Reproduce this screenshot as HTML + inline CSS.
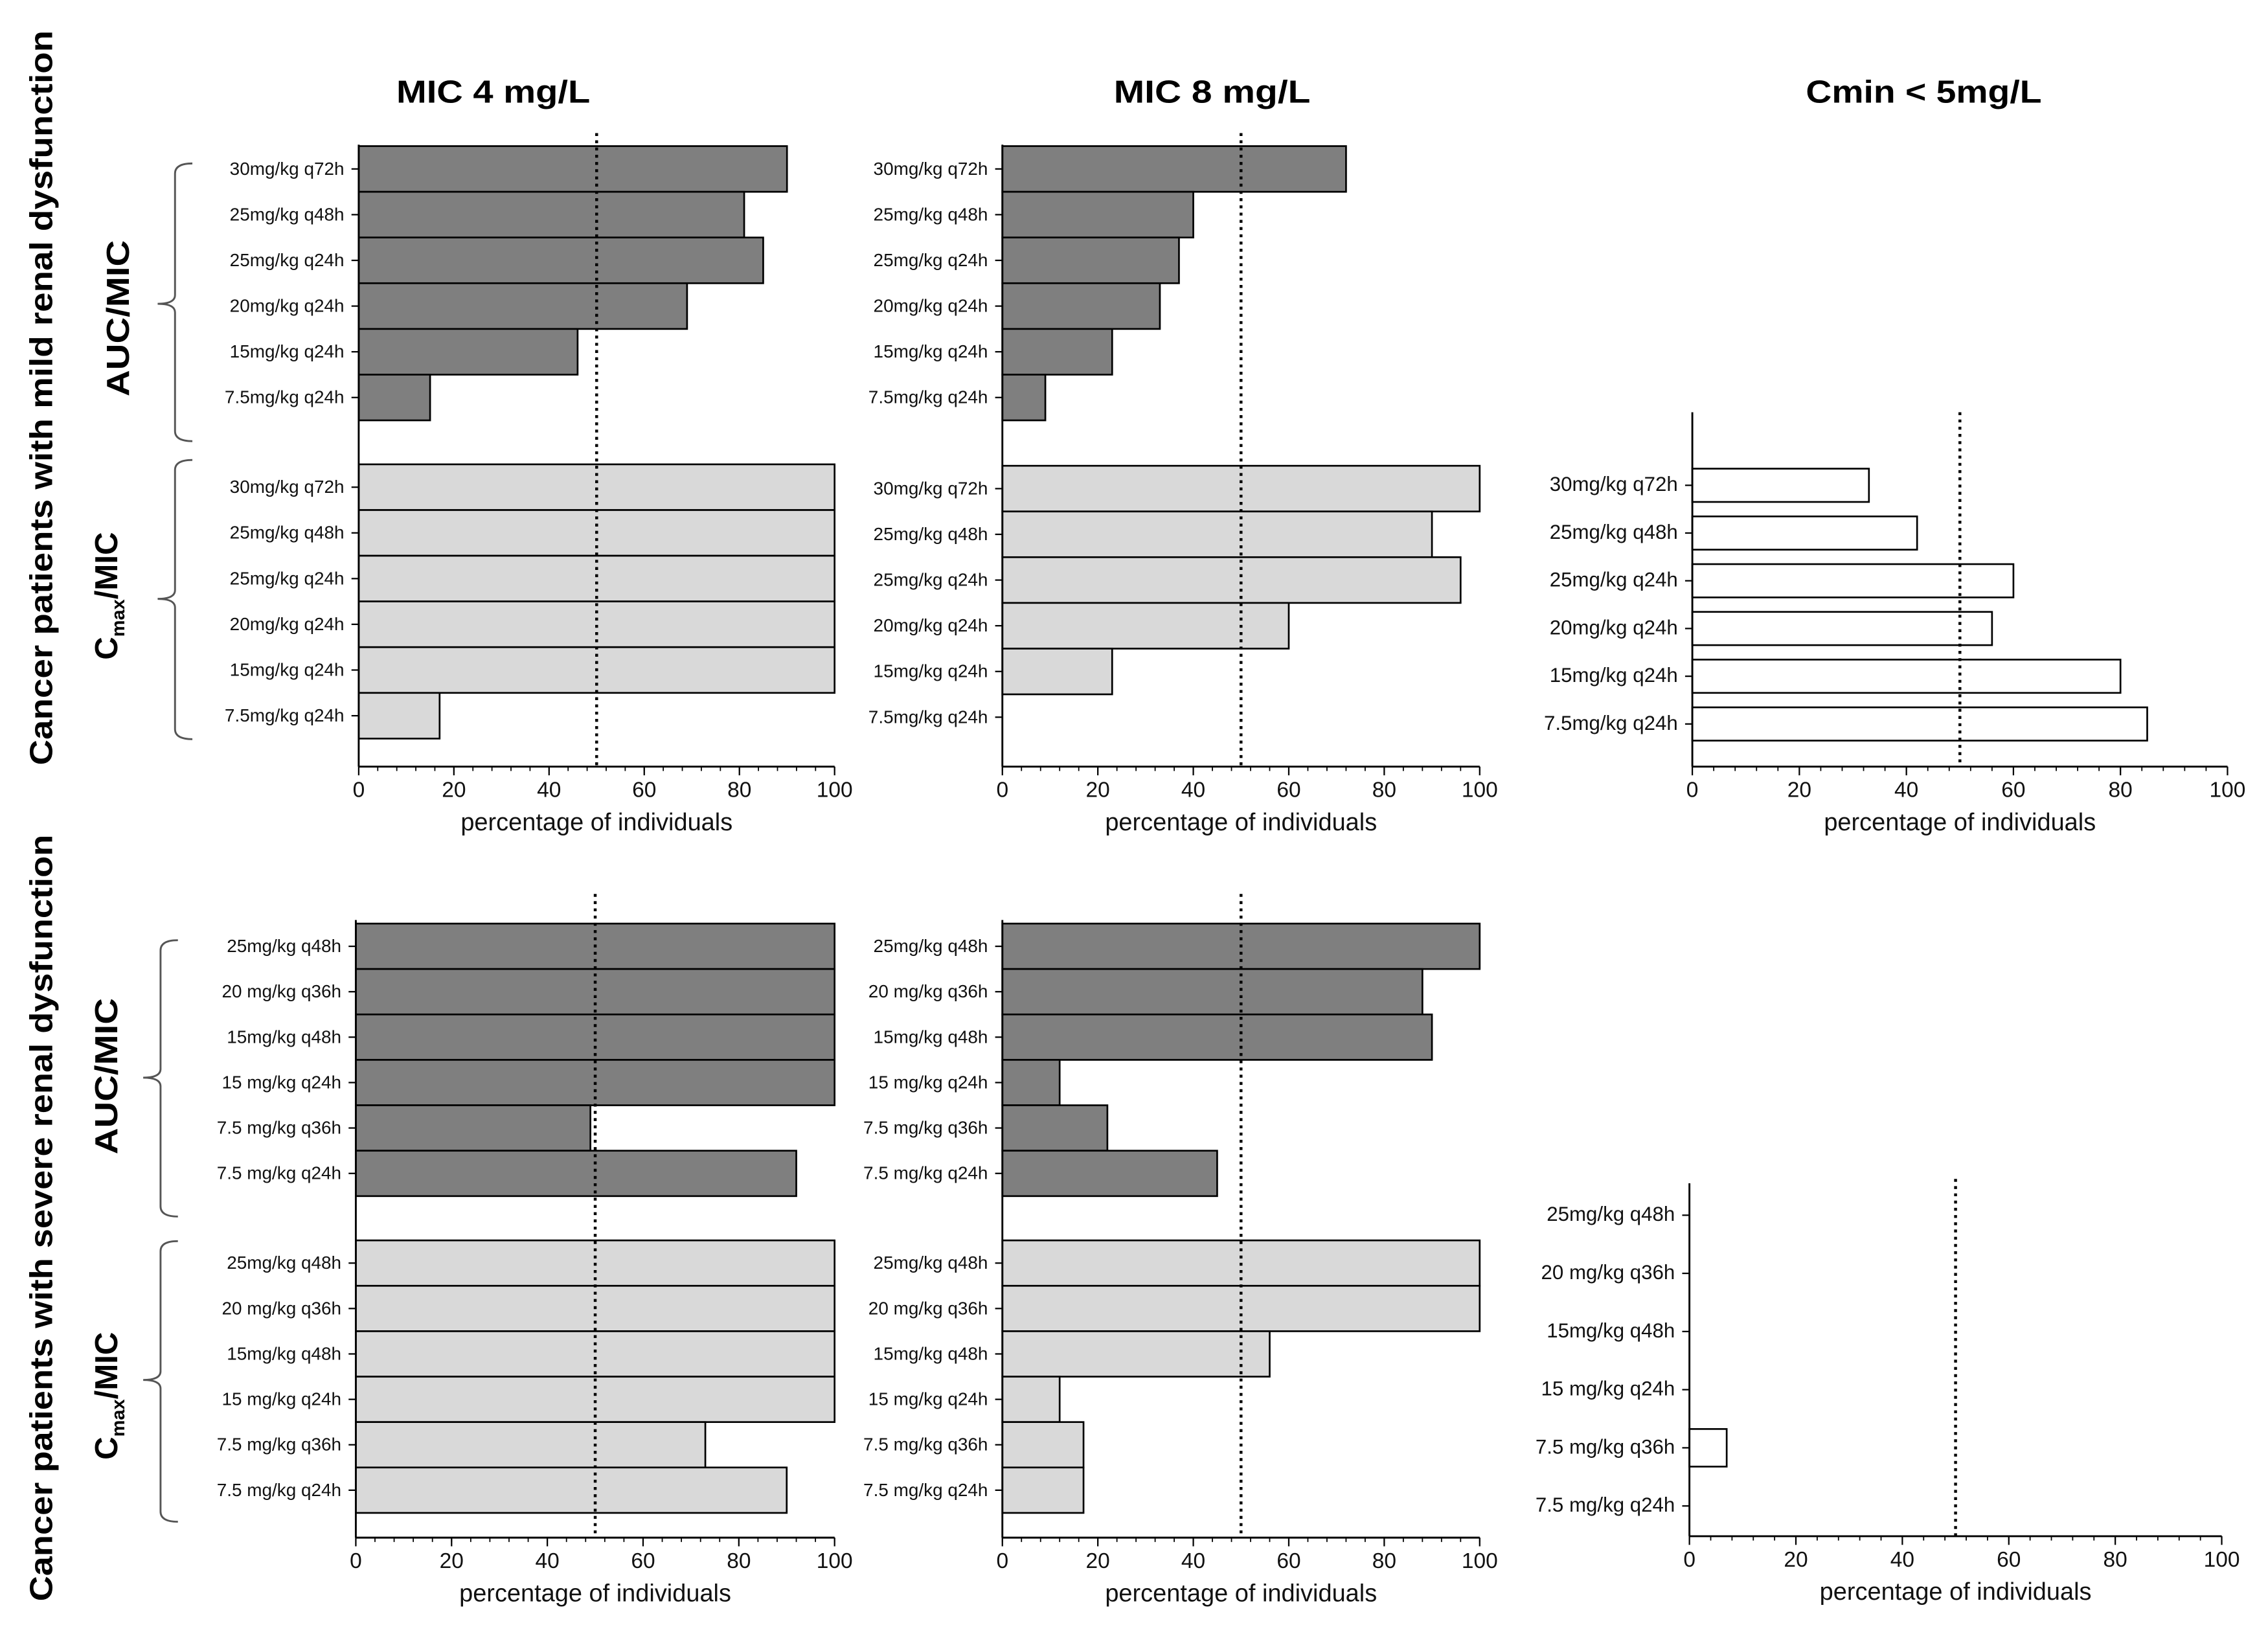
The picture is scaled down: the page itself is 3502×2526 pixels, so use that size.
<!DOCTYPE html>
<html><head><meta charset="utf-8"><style>
html,body{margin:0;padding:0;background:#fff;}
svg{display:block;}
text{font-family:"Liberation Sans",sans-serif;}
.b{font-family:"Liberation Sans",sans-serif;font-weight:bold;}
</style></head><body>
<svg id="chart" width="3502" height="2526" viewBox="0 0 1568 1131" xmlns="http://www.w3.org/2000/svg">
<g id="static">
<text class="b" x="341" y="71" font-size="22" text-anchor="middle" textLength="134" lengthAdjust="spacingAndGlyphs">MIC 4 mg/L</text>
<text class="b" x="838" y="71" font-size="22" text-anchor="middle" textLength="136" lengthAdjust="spacingAndGlyphs">MIC 8 mg/L</text>
<text class="b" x="1330" y="71" font-size="22" text-anchor="middle" textLength="163" lengthAdjust="spacingAndGlyphs">Cmin &lt; 5mg/L</text>
<text class="b" transform="translate(36,275) rotate(-90)" font-size="22" text-anchor="middle" textLength="508" lengthAdjust="spacingAndGlyphs">Cancer patients with mild renal dysfunction</text>
<text class="b" transform="translate(36,842) rotate(-90)" font-size="22" text-anchor="middle" textLength="530" lengthAdjust="spacingAndGlyphs">Cancer patients with severe renal dysfunction</text>
<text class="b" transform="translate(89,220) rotate(-90)" font-size="22" text-anchor="middle" textLength="108" lengthAdjust="spacingAndGlyphs">AUC/MIC</text>
<text class="b" transform="translate(81,412) rotate(-90)" font-size="22" text-anchor="middle">C<tspan font-size="13" dy="5">max</tspan><tspan dy="-5">/MIC</tspan></text>
<text class="b" transform="translate(81,744) rotate(-90)" font-size="22" text-anchor="middle" textLength="108" lengthAdjust="spacingAndGlyphs">AUC/MIC</text>
<text class="b" transform="translate(81,965) rotate(-90)" font-size="22" text-anchor="middle">C<tspan font-size="13" dy="5">max</tspan><tspan dy="-5">/MIC</tspan></text>
<g fill="none" stroke="#555" stroke-width="1.3">
<path d="M133,113 Q121,113 121,120 L121,204 Q121,210 109,210 Q121,210 121,216 L121,298 Q121,305 133,305"/>
<path d="M133,318 Q121,318 121,325 L121,408 Q121,414 109,414 Q121,414 121,420 L121,504 Q121,511 133,511"/>
<path d="M123,650 Q111,650 111,657 L111,739 Q111,745 99,745 Q111,745 111,751 L111,834 Q111,841 123,841"/>
<path d="M123,858 Q111,858 111,865 L111,948 Q111,954 99,954 Q111,954 111,960 L111,1045 Q111,1052 123,1052"/>
</g>
</g>
</svg>
<script>
var labelsMild = ["30mg/kg q72h","25mg/kg q48h","25mg/kg q24h","20mg/kg q24h","15mg/kg q24h","7.5mg/kg q24h"];
var labelsSevere = ["25mg/kg q48h","20 mg/kg q36h","15mg/kg q48h","15 mg/kg q24h","7.5 mg/kg q36h","7.5 mg/kg q24h"];
var mic4MildAuc = [90,81,85,69,46,15];
var mic4MildCmax = [100,100,100,100,100,17];
var mic8MildAuc = [72,40,37,33,23,9];
var mic8MildCmax = [100,90,96,60,23,0];
var cminMild = [33,42,60,56,80,85];
var mic4SevAuc = [100,100,100,100,49,92];
var mic4SevCmax = [100,100,100,100,73,90];
var mic8SevAuc = [100,88,90,12,22,45];
var mic8SevCmax = [100,100,56,12,17,17];
var cminSev = [0,0,0,0,7,0];
var xTicks = [0,20,40,60,80,100];
var threshold = 50;

var NS = "http://www.w3.org/2000/svg";
var svg = document.getElementById('chart');
function el(tag, attrs, parent){
  var e = document.createElementNS(NS, tag);
  for (var k in attrs) e.setAttribute(k, attrs[k]);
  (parent||svg).appendChild(e);
  return e;
}
function panel(p){
  var g = el('g', {});
  
  
  function xs(v){ return p.x0 + (p.x1 - p.x0) * v / 100; }
  p.groups.forEach(function(grp){
    grp.values.forEach(function(v, i){
      var yt = grp.top + i * grp.step;
      var yc = yt + grp.step / 2;
      var by = yt + (grp.step - grp.bh) / 2;
      if (v > 0) {
        var r = el('rect', {x: xs(0), y: by, width: xs(v) - xs(0), height: grp.bh, fill: grp.fill, stroke: '#000', 'stroke-width': 1.2}, g);
        
        
      }
      var t = el('text', {x: p.x0 - 10, y: yc + 4, 'font-size': p.fs, 'text-anchor': 'end', fill: '#111'}, g);
      t.textContent = p.labels[i];
      
      
      el('line', {x1: p.x0 - 5, x2: p.x0, y1: yc, y2: yc, stroke: '#000', 'stroke-width': 1}, g);
    });
  });
  var ya = el('line', {x1: p.x0, x2: p.x0, y1: p.yTop, y2: p.yAx, stroke: '#000', 'stroke-width': 1.3}, g);
  
  
  var xa = el('line', {x1: p.x0, x2: p.x1, y1: p.yAx, y2: p.yAx, stroke: '#000', 'stroke-width': 1.3}, g);
  
  
  for (var m = 0; m <= 100; m += 4) {
    el('line', {x1: xs(m), x2: xs(m), y1: p.yAx, y2: p.yAx + 3, stroke: '#000', 'stroke-width': 0.8}, g);
  }
  xTicks.forEach(function(tv){
    el('line', {x1: xs(tv), x2: xs(tv), y1: p.yAx, y2: p.yAx + 6, stroke: '#000', 'stroke-width': 1}, g);
    var t = el('text', {x: xs(tv), y: p.yAx + 21, 'font-size': 15, 'text-anchor': 'middle', fill: '#111'}, g);
    t.textContent = tv;
    
    
  });
  var tt = el('text', {x: (p.x0 + p.x1) / 2, y: p.yAx + 44, 'font-size': 17, 'text-anchor': 'middle', fill: '#111'}, g);
  tt.textContent = 'percentage of individuals';
  
  
  var dl = el('line', {x1: xs(threshold), x2: xs(threshold), y1: p.yDot, y2: p.yAx, stroke: '#000', 'stroke-width': 2, 'stroke-dasharray': '2,3'}, g);
  
  
}
var DARK = '#7f7f7f', LIGHT = '#d9d9d9';
function grpBuild(key, vals, top, step, bh, fill){ return {key:key, values:vals, top:top, step:step, bh:bh, fill:fill}; }
function fullPanel(name, x0, x1, yTop, yAx, yDot, fs, labels, groups){
  panel({name:name, x0:x0, x1:x1, yTop:yTop, yAx:yAx, yDot:yDot, fs:fs, labels:labels, groups:groups});
}
fullPanel('panel-mic4-mild', 248, 577, 100, 530, 92, 12.5, labelsMild, [
  grpBuild('mic4-mild-auc', mic4MildAuc, 101, 31.6, 31.6, DARK),
  grpBuild('mic4-mild-cmax', mic4MildCmax, 321, 31.6, 31.6, LIGHT)]);
fullPanel('panel-mic8-mild', 693, 1023, 100, 530, 92, 12.5, labelsMild, [
  grpBuild('mic8-mild-auc', mic8MildAuc, 101, 31.6, 31.6, DARK),
  grpBuild('mic8-mild-cmax', mic8MildCmax, 322, 31.6, 31.6, LIGHT)]);
fullPanel('panel-cmin-mild', 1170, 1540, 285, 530, 285, 14, labelsMild, [
  grpBuild('cmin-mild', cminMild, 319, 33, 23, '#fff')]);
fullPanel('panel-mic4-severe', 246, 577, 636, 1063, 618, 12.5, labelsSevere, [
  grpBuild('mic4-sev-auc', mic4SevAuc, 638.5, 31.4, 31.4, DARK),
  grpBuild('mic4-sev-cmax', mic4SevCmax, 857.5, 31.4, 31.4, LIGHT)]);
fullPanel('panel-mic8-severe', 693, 1023, 636, 1063, 618, 12.5, labelsSevere, [
  grpBuild('mic8-sev-auc', mic8SevAuc, 638.5, 31.4, 31.4, DARK),
  grpBuild('mic8-sev-cmax', mic8SevCmax, 857.5, 31.4, 31.4, LIGHT)]);
fullPanel('panel-cmin-severe', 1168, 1536, 818, 1062, 815, 14, labelsSevere, [
  grpBuild('cmin-sev', cminSev, 820, 40.2, 26, '#fff')]);
</script>
</body></html>
